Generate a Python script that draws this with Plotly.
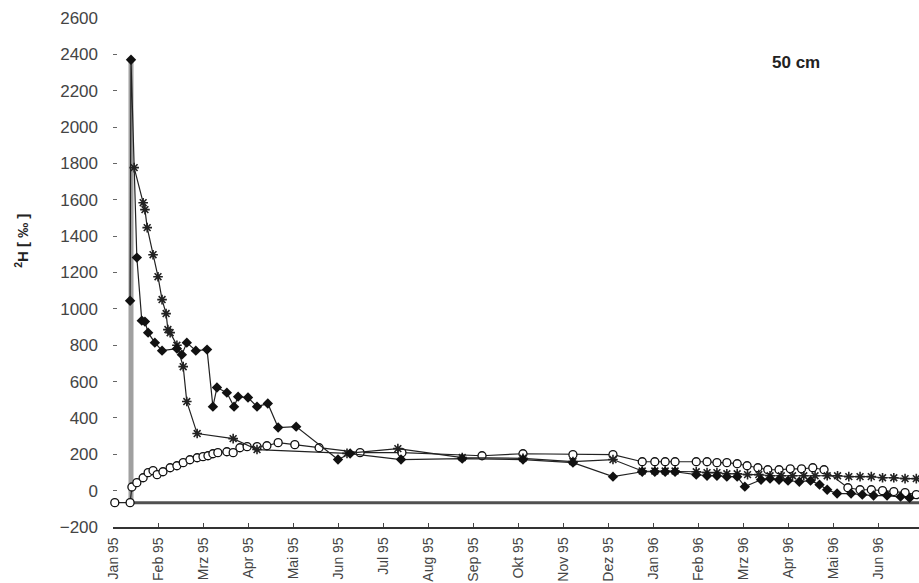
import plotly.graph_objects as go

# month index: 0 = Jan 95, 1 = Feb 95, ...
month_labels = ['Jan 95', 'Feb 95', 'Mrz 95', 'Apr 95', 'Mai 95', 'Jun 95', 'Jul 95',
                'Aug 95', 'Sep 95', 'Okt 95', 'Nov 95', 'Dez 95', 'Jan 96', 'Feb 96',
                'Mrz 96', 'Apr 96', 'Mai 96', 'Jun 96', 'Jul 96']

# filled diamonds
dia_x = [0.38, 0.40, 0.53, 0.64, 0.71, 0.78, 0.93, 1.09, 1.42, 1.53, 1.64, 1.84, 2.09,
         2.22, 2.31, 2.53, 2.69, 2.78, 3.00, 3.20, 3.44, 3.67, 4.07, 5.00, 5.27, 6.40,
         7.76, 9.11, 10.22, 11.11, 11.76, 12.04, 12.27, 12.49, 12.96, 13.20, 13.42,
         13.64, 13.87, 14.04, 14.40, 14.60, 14.80, 15.00, 15.25, 15.50, 15.70, 15.87,
         16.09, 16.40, 16.65, 16.90, 17.20, 17.50, 17.70]
dia_y = [1045, 2370, 1282, 935, 930, 869, 814, 770, 781, 748, 814, 770, 776,
         462, 567, 539, 462, 517, 512, 462, 479, 347, 352, 171, 204, 171,
         176, 171, 154, 77, 104, 104, 104, 104, 88, 82, 82,
         77, 77, 22, 60, 66, 60, 55, 49, 55, 33, 5,
         -16, -16, -22, -27, -27, -33, -40]

# asterisks
ast_x = [0.47, 0.67, 0.71, 0.76, 0.89, 1.00, 1.09, 1.18, 1.22, 1.27, 1.42, 1.56, 1.64,
         1.87, 2.67, 3.20, 5.20, 6.33, 7.76, 9.11, 10.22, 11.11, 11.76, 12.04, 12.27,
         12.49, 12.96, 13.20, 13.42, 13.64, 13.87, 14.10, 14.35, 14.60, 14.85, 15.10,
         15.35, 15.60, 15.87, 16.10, 16.35, 16.60, 16.85, 17.10, 17.35, 17.60, 17.85]
ast_y = [1777, 1584, 1546, 1447, 1298, 1177, 1051, 974, 886, 869, 800, 682, 490,
         314, 286, 226, 205, 231, 182, 178, 160, 171, 108, 108, 108,
         108, 104, 99, 99, 93, 93, 88, 88, 82, 82, 82,
         82, 82, 82, 82, 77, 77, 77, 71, 71, 66, 66]

# open circles
circ_x = [0.04, 0.38, 0.42, 0.53, 0.67, 0.78, 0.89, 0.98, 1.11, 1.27, 1.42, 1.56, 1.71,
          1.87, 2.00, 2.11, 2.22, 2.33, 2.53, 2.67, 2.82, 2.98, 3.20, 3.42, 3.67, 4.04,
          4.58, 5.49, 6.42, 8.20, 9.11, 10.22, 11.11, 11.76, 12.04, 12.27, 12.49, 12.96,
          13.20, 13.42, 13.64, 13.87, 14.09, 14.33, 14.55, 14.80, 15.05, 15.30, 15.55,
          15.80, 16.33, 16.60, 16.85, 17.10, 17.35, 17.60, 17.85]
circ_y = [-66, -66, 20, 44, 71, 99, 110, 88, 104, 126, 137, 154, 170,
          181, 187, 192, 203, 209, 214, 209, 236, 242, 242, 247, 264, 253,
          236, 209, 209, 192, 203, 198, 198, 159, 159, 159, 159, 159,
          159, 154, 154, 148, 137, 126, 115, 115, 120, 120, 126,
          115, 16, 5, 5, 0, -5, -11, -22]

# tracer pulse and background level
pulse_x = [0.40, 0.40]
pulse_y = [-66, 2370]
base_x = [0.40, 18.5]
base_y = [-66, -66]

fig = go.Figure()

fig.add_trace(go.Scatter(x=pulse_x, y=pulse_y, mode='lines',
                         line=dict(color='#a0a0a0', width=5), showlegend=False))
fig.add_trace(go.Scatter(x=base_x, y=base_y, mode='lines',
                         line=dict(color='#505050', width=3), showlegend=False))
fig.add_trace(go.Scatter(x=circ_x, y=circ_y, mode='lines+markers',
                         line=dict(color='#222222', width=1.2),
                         marker=dict(symbol='circle', size=8, color='white',
                                     line=dict(color='#111111', width=1.3)),
                         showlegend=False, cliponaxis=False))
fig.add_trace(go.Scatter(x=ast_x, y=ast_y, mode='lines+markers',
                         line=dict(color='#222222', width=1.2),
                         marker=dict(symbol='asterisk-open', size=8,
                                     line=dict(color='#111111', width=1.6)),
                         showlegend=False))
fig.add_trace(go.Scatter(x=dia_x, y=dia_y, mode='lines+markers',
                         line=dict(color='#222222', width=1.2),
                         marker=dict(symbol='diamond', size=8, color='#111111'),
                         showlegend=False))

fig.add_annotation(x=0.848, y=0.913, xref='paper', yref='paper', text='<b>50 cm</b>',
                   xanchor='center', yanchor='middle',
                   showarrow=False, font=dict(size=17, color='#222222'))
fig.add_annotation(x=-0.113, y=0.562, xref='paper', yref='paper',
                   text='<b><sup>2</sup>H [ ‰ ]</b>', textangle=-90,
                   xanchor='center', yanchor='middle',
                   showarrow=False, font=dict(size=15, color='#222222'))

fig.update_layout(
    width=919, height=583,
    margin=dict(l=113, r=0, t=18, b=56),
    plot_bgcolor='white', paper_bgcolor='white',
    font=dict(family='Liberation Sans, Arial, sans-serif', color='#444444'),
    xaxis=dict(range=[0, 17.91], tickvals=list(range(len(month_labels))),
               ticktext=month_labels, tickangle=-90, ticks='inside', ticklen=4,
               tickcolor='#444444', showline=True, linecolor='#333333', linewidth=1.5,
               showgrid=False, zeroline=False, tickfont=dict(size=14),
               ticklabelstandoff=3, automargin=False),
    yaxis=dict(range=[-200, 2600], tickvals=list(range(-200, 2601, 200)),
               ticks='inside', ticklen=4, tickcolor='#666666', showline=False,
               showgrid=False, zeroline=False, tickfont=dict(size=17),
               ticklabelstandoff=14, automargin=False),
)

# page body has a default 8px margin; drop it so the figure sits at the corner
fig.write_html('out.html', config={'displayModeBar': False},
               post_script="document.body.style.margin='0';"
                           "document.body.style.overflow='hidden';")
